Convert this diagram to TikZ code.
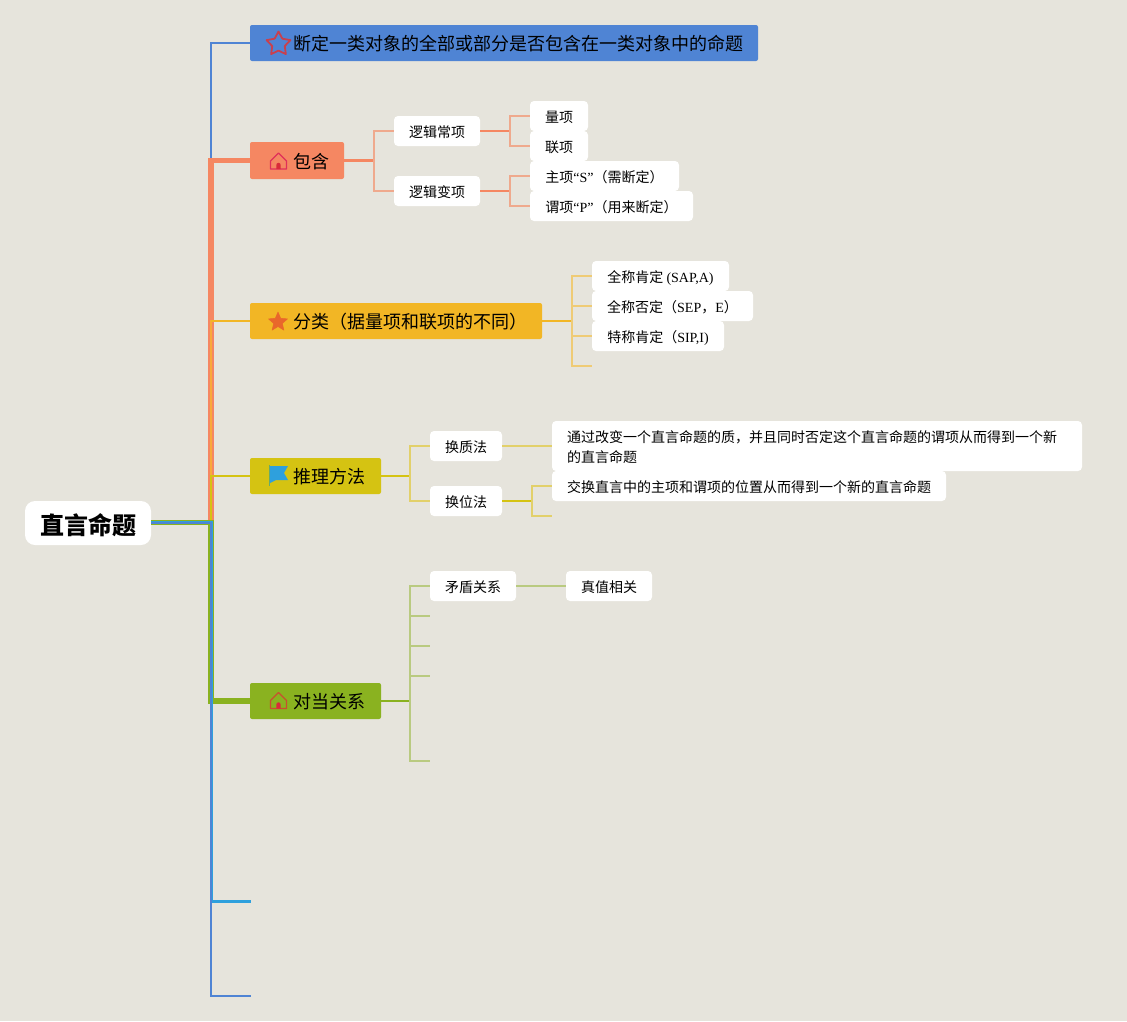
\documentclass[tikz,border=0pt]{standalone}
\usepackage{fontspec}
\usetikzlibrary{shapes.geometric}
\setmainfont{Noto Sans CJK SC}
\newfontfamily\latfont{Liberation Serif}
\newcommand{\lat}[1]{{\latfont #1}}
\definecolor{bgc}{HTML}{E6E4DC}
\definecolor{cblue}{HTML}{4F84D4}
\definecolor{cskyb}{HTML}{2EA0DD}
\definecolor{corange}{HTML}{F58762}
\definecolor{corangel}{HTML}{EFA98D}
\definecolor{cgold}{HTML}{F2B625}
\definecolor{cgoldl}{HTML}{EFCB75}
\definecolor{ctrunky}{HTML}{F9A93A}
\definecolor{colive}{HTML}{D5C312}
\definecolor{colivel}{HTML}{E2D06A}
\definecolor{cgreen}{HTML}{8AB220}
\definecolor{cgreenl}{HTML}{B9CA80}
\definecolor{cstarline}{HTML}{C8404E}
\definecolor{cstarfill}{HTML}{E9672B}
\definecolor{chouseA}{HTML}{E0305A}
\definecolor{chouseB}{HTML}{C8502F}
\definecolor{cdoor}{HTML}{D92B3A}
\newcommand{\boxnode}[7]{\node[#6, minimum width={(#4-#2)*1pt}, minimum height={(#5-#3)*1pt}] (#1) at ({(#2+#4)/2},{(#3+#5)/2}) {#7};}
\newcommand{\elbow}[4]{\draw[#1] (#2) -- (#3 |- #2) -- (#3 |- #4) -- (#4);}
\newcommand{\housepic}[4]{%
  \draw[#4, line width=1.3pt, line join=round] ({#2-8},{#3+8}) -- ({#2-8},{#3}) -- ({#2},{#3-8}) -- ({#2+8},{#3}) -- ({#2+8},{#3+8}) -- cycle;
  \fill[#1] ({#2-2.2},{#3+8}) -- ({#2-2.2},{#3+4}) arc[start angle=180,end angle=360,radius=2.2] -- ({#2+2.2},{#3+8}) -- cycle;}
\tikzset{
  every node/.style={inner sep=0pt, outer sep=0pt},
  rootbox/.style={fill=white, rounded corners=10pt, font=\fontsize{24}{28}\selectfont\bfseries, text height=24pt, text depth=1.8pt},
  topbox/.style={fill=#1, rounded corners=2pt, font=\fontsize{18}{24}\selectfont, text=black, text height=17.5pt, text depth=1.8pt},
  subbox/.style={fill=white, rounded corners=4pt, font=\fontsize{14}{20}\selectfont, text=black, text height=14pt, text depth=1.4pt},
  thin line/.style={line width=1.5pt},
  mid line/.style={line width=2.2pt}
}
\begin{document}
\begin{tikzpicture}[x=1pt,y=-1pt]
\fill[bgc] (0,0) rectangle (1127,1021);
\useasboundingbox (0,0) rectangle (1127,1021);

% nodes
\boxnode{root}{25}{501}{151}{545}{rootbox}{直言命题}
\boxnode{tdef}{250}{25}{758}{61}{topbox=cblue}{\hspace*{28pt}断定一类对象的全部或部分是否包含在一类对象中的命题}
\boxnode{tbao}{250}{142}{344}{179}{topbox=corange}{\hspace*{28pt}包含}
\boxnode{tfen}{250}{303}{542}{339}{topbox=cgold}{\hspace*{28pt}分类（据量项和联项的不同）}
\boxnode{ttui}{250}{458}{381}{494}{topbox=colive}{\hspace*{28pt}推理方法}
\boxnode{tdui}{250}{683}{381}{719}{topbox=cgreen}{\hspace*{28pt}对当关系}

\boxnode{lchang}{394}{116}{480}{146}{subbox}{逻辑常项}
\boxnode{lbian}{394}{176}{480}{206}{subbox}{逻辑变项}
\boxnode{liang}{530}{101}{588}{131}{subbox}{量项}
\boxnode{lian}{530}{131}{588}{161}{subbox}{联项}
\boxnode{zhu}{530}{161}{679}{191}{subbox}{主项\lat{“S”}（需断定）}
\boxnode{wei}{530}{191}{693}{221}{subbox}{谓项\lat{“P”}（用来断定）}

\boxnode{sap}{592}{261}{729}{291}{subbox}{全称肯定 \lat{(SAP,A)}}
\boxnode{sep}{592}{291}{753}{321}{subbox}{全称否定（\lat{SEP}，\lat{E}）}
\boxnode{sip}{592}{321}{724}{351}{subbox}{特称肯定（\lat{SIP,I)}}

\boxnode{hzhi}{430}{431}{502}{461}{subbox}{换质法}
\boxnode{hwei}{430}{486}{502}{516}{subbox}{换位法}
\boxnode{tong}{552}{421}{1082}{471}{subbox, align=left, text width=500pt, text depth=21.4pt}{通过改变一个直言命题的质，并且同时否定这个直言命题的谓项从而得到一个新\\的直言命题}
\boxnode{jiao}{552}{471}{946}{501}{subbox}{交换直言中的主项和谓项的位置从而得到一个新的直言命题}

\boxnode{mao}{430}{571}{516}{601}{subbox}{矛盾关系}
\boxnode{zhen}{566}{571}{652}{601}{subbox}{真值相关}

% junction columns and free ends
\coordinate (tk) at (211,522.5);
\coordinate (rt) at (151,522.5);
\coordinate (e1) at (251,901);
\coordinate (e2) at (251,996);
\coordinate (jbao) at (374,160.5);
\coordinate (jchang) at (510,131);
\coordinate (jbian) at (510,191);
\coordinate (jfen) at (572,321);
\coordinate (efen) at (592,366);
\coordinate (jtui) at (410,476);
\coordinate (jhwei) at (532,501);
\coordinate (ejiao) at (552,486);
\coordinate (ehwei) at (552,516);
\coordinate (jdui) at (410,701);
\coordinate (ed1) at (430,616);
\coordinate (ed2) at (430,646);
\coordinate (ed3) at (430,676);
\coordinate (ed4) at (430,761);

% trunk connectors
\elbow{draw=cblue, line width=2pt}{rt}{tk}{tdef.west}
\elbow{draw=corange, line width=5.5pt}{rt}{tk}{tbao.west}
\elbow{draw=ctrunky, line width=2.5pt}{rt}{tk}{tfen.west}
\draw[cgold, line width=2.5pt] (tk |- tfen.west) -- (tfen.west);
\elbow{draw=colive, line width=2pt}{rt}{tk}{ttui.west}
\elbow{draw=cgreen, line width=5.5pt}{rt}{tk}{tdui.west}
\elbow{draw=cskyb, line width=3pt}{rt}{tk}{e1}
\elbow{draw=cblue, line width=2pt}{rt}{tk}{e2}

% branch connectors
\draw[corange, mid line] (tbao.east) -- (jbao);
\elbow{corangel, thin line}{jbao}{jbao}{lchang.west}
\elbow{corangel, thin line}{jbao}{jbao}{lbian.west}
\draw[corange, mid line] (lchang.east) -- (jchang);
\elbow{corangel, thin line}{jchang}{jchang}{liang.west}
\elbow{corangel, thin line}{jchang}{jchang}{lian.west}
\draw[corange, mid line] (lbian.east) -- (jbian);
\elbow{corangel, thin line}{jbian}{jbian}{zhu.west}
\elbow{corangel, thin line}{jbian}{jbian}{wei.west}

\draw[cgold, mid line] (tfen.east) -- (jfen);
\elbow{cgoldl, thin line}{jfen}{jfen}{sap.west}
\elbow{cgoldl, thin line}{jfen}{jfen}{sep.west}
\elbow{cgoldl, thin line}{jfen}{jfen}{sip.west}
\elbow{cgoldl, thin line}{jfen}{jfen}{efen}

\draw[colive, mid line] (ttui.east) -- (jtui);
\elbow{colivel, thin line}{jtui}{jtui}{hzhi.west}
\elbow{colivel, thin line}{jtui}{jtui}{hwei.west}
\draw[colivel, thin line] (hzhi.east) -- (hzhi.east -| tong.west);
\draw[colive, mid line] (hwei.east) -- (jhwei);
\elbow{colivel, thin line}{jhwei}{jhwei}{ejiao}
\elbow{colivel, thin line}{jhwei}{jhwei}{ehwei}

\draw[cgreen, mid line] (tdui.east) -- (jdui);
\elbow{cgreenl, thin line}{jdui}{jdui}{mao.west}
\elbow{cgreenl, thin line}{jdui}{jdui}{ed1}
\elbow{cgreenl, thin line}{jdui}{jdui}{ed2}
\elbow{cgreenl, thin line}{jdui}{jdui}{ed3}
\elbow{cgreenl, thin line}{jdui}{jdui}{ed4}
\draw[cgreenl, thin line] (mao.east) -- (zhen.west);

% icons
\node[star, star points=5, star point ratio=1.9, minimum size=25pt, draw=cstarline, line width=1.8pt, line join=round] (istar) at (278.5,44) {};
\node[star, star points=5, star point ratio=2.2, minimum size=20pt, fill=cstarfill, draw=cstarfill, line width=.5pt, line join=round] (ifull) at (278,322) {};
\housepic{cdoor}{278.5}{161}{chouseA}
\housepic{cdoor}{278.5}{700.5}{chouseB}
\fill[cskyb] (269.5,466) -- (288,466) -- (284,473) -- (288,480) -- (276,480) -- (270,483) -- cycle;
\draw[cgreen!60!cskyb, line width=1pt] (269.5,465) -- (269.5,486);
\end{tikzpicture}
\end{document}
